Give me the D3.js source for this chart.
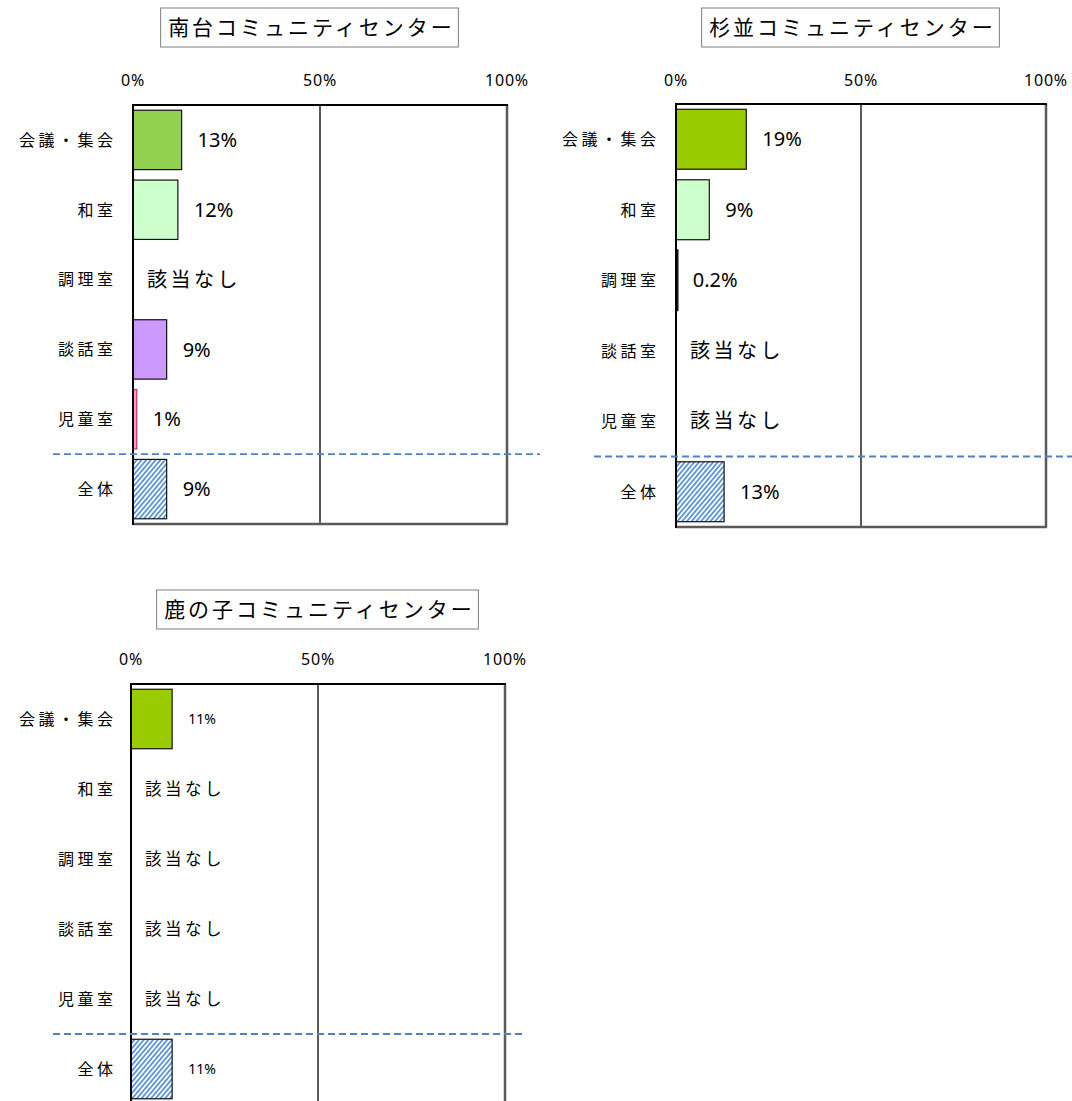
<!DOCTYPE html>
<html>
<head>
<meta charset="utf-8">
<script src="https://cdn.jsdelivr.net/npm/d3@7"></script>
<style>
  body { margin: 0; background: #fff; }
  svg { display: block; }
</style>
</head>
<body>
<div id="chart"></div>
<script>
/* 3 small horizontal bar panels: usage rate per room, per community center */

const categories = ["会議・集会", "和室", "調理室", "談話室", "児童室", "全体"];
const tickValues = [0, 50, 100];
const tickLabels = ["0%", "50%", "100%"];

const nandaiValues = [13, 12, null, 9, 1, 9];
const suginamiValues = [19, 9, 0.2, null, null, 13];
const shikanokoValues = [11, null, null, null, null, 11];

const nandaiColors = ["#92d050", "#ccffcc", null, "#cc99ff", "#ff99cc", "hatch"];
const suginamiColors = ["#99cc00", "#ccffcc", "#111111", null, null, "hatch"];
const shikanokoColors = ["#99cc00", null, null, null, null, "hatch"];

const panels = [
  { title: "南台コミュニティセンター", values: nandaiValues, colors: nandaiColors,
    x0: 133, x1: 507, top: 105, bottom: 524, titleX: 310, titleY: 8,
    dashFrom: 53, dashTo: 540, labelRight: 113, tickY: 86, valueSize: 20, naSize: 20, naSpacing: 3.5 },
  { title: "杉並コミュニティセンター", values: suginamiValues, colors: suginamiColors,
    x0: 676, x1: 1046, top: 104, bottom: 527, titleX: 851, titleY: 8,
    dashFrom: 594, dashTo: 1072, labelRight: 656, tickY: 86, valueSize: 20, naSize: 20, naSpacing: 3.5 },
  { title: "鹿の子コミュニティセンター", values: shikanokoValues, colors: shikanokoColors,
    x0: 131, x1: 505, top: 684, bottom: 1104, titleX: 318, titleY: 590,
    dashFrom: 53, dashTo: 525, labelRight: 113, tickY: 665, valueSize: 14, naSize: 16.5, naSpacing: 3.5 }
];

const width = 1072, height = 1101;
const jpFont = "'Noto Sans CJK JP', 'Noto Sans', sans-serif";
const numFont = "'Noto Sans', 'Open Sans', sans-serif";

const svg = d3.select("#chart").append("svg")
  .attr("width", width)
  .attr("height", height);

// hatch for "全体"
const pat = svg.append("defs").append("pattern")
  .attr("id", "hatch")
  .attr("patternUnits", "userSpaceOnUse")
  .attr("width", 3.6).attr("height", 3.6)
  .attr("patternTransform", "rotate(40)");
pat.append("rect").attr("width", 3.6).attr("height", 3.6).attr("fill", "#fff");
pat.append("line")
  .attr("x1", 0.9).attr("y1", 0).attr("x2", 0.9).attr("y2", 3.6)
  .attr("stroke", "#5b95dc").attr("stroke-width", 1.8);

panels.forEach(p => {
  const g = svg.append("g");

  const x = d3.scaleLinear().domain([0, 100]).range([p.x0, p.x1]);
  const y = d3.scaleBand().domain(categories).range([p.top, p.bottom])
    .paddingInner(0.15).paddingOuter(0.075);

  // title box
  const title = g.append("text")
    .attr("x", p.titleX + 1.5)
    .attr("y", p.titleY + 27)
    .attr("text-anchor", "middle")
    .attr("font-family", jpFont)
    .attr("font-size", 21)
    .attr("letter-spacing", 3)
    .attr("fill", "#000")
    .text(p.title);
  const tw = title.node().getComputedTextLength();
  g.insert("rect", "text")
    .attr("x", p.titleX - tw / 2 - 6)
    .attr("y", p.titleY)
    .attr("width", tw + 11)
    .attr("height", 39)
    .attr("fill", "#fff")
    .attr("stroke", "#7f7f7f")
    .attr("stroke-width", 1);

  // tick labels on top
  g.selectAll(".tick-label")
    .data(tickValues)
    .join("text")
    .attr("x", d => x(d))
    .attr("y", p.tickY)
    .attr("text-anchor", "middle")
    .attr("font-family", numFont)
    .attr("font-size", 16)
    .attr("letter-spacing", 0.8)
    .attr("fill", "#000")
    .text((d, i) => tickLabels[i]);

  // 50% gridline
  g.append("line")
    .attr("x1", x(50)).attr("x2", x(50))
    .attr("y1", p.top).attr("y2", p.bottom)
    .attr("stroke", "#222").attr("stroke-width", 1.5);

  // frame: right + bottom gray, top black
  g.append("line")
    .attr("x1", x(100)).attr("x2", x(100))
    .attr("y1", p.top).attr("y2", p.bottom)
    .attr("stroke", "#5a5a5a").attr("stroke-width", 2.5);
  g.append("line")
    .attr("x1", p.x0).attr("x2", x(100) + 1)
    .attr("y1", p.bottom).attr("y2", p.bottom)
    .attr("stroke", "#5a5a5a").attr("stroke-width", 2.5);
  g.append("line")
    .attr("x1", p.x0).attr("x2", x(100) + 1)
    .attr("y1", p.top).attr("y2", p.top)
    .attr("stroke", "#000").attr("stroke-width", 2);

  // bars
  const rows = categories.map((c, i) => ({ cat: c, v: p.values[i], color: p.colors[i] }));
  g.selectAll(".bar")
    .data(rows.filter(d => d.v !== null))
    .join("rect")
    .attr("x", x(0))
    .attr("y", d => y(d.cat))
    .attr("width", d => Math.max(x(d.v) - x(0), 1.5))
    .attr("height", y.bandwidth())
    .attr("fill", d => d.color === "hatch" ? "url(#hatch)" : d.color)
    .attr("stroke", d => d.cat === "児童室" ? "#c0306a" : "#111")
    .attr("stroke-width", d => d.v < 1 ? 2 : 1.2);

  // left axis
  g.append("line")
    .attr("x1", p.x0).attr("x2", p.x0)
    .attr("y1", p.top - 1).attr("y2", p.bottom + 1)
    .attr("stroke", "#000").attr("stroke-width", 2);

  // dashed separator above 全体
  const sepY = y("全体") - (y.step() - y.bandwidth()) / 2;
  g.append("line")
    .attr("x1", p.dashFrom).attr("x2", p.dashTo)
    .attr("y1", sepY).attr("y2", sepY)
    .attr("stroke", "#4f81c4").attr("stroke-width", 1.8)
    .attr("stroke-dasharray", "7,4");

  // category labels
  g.selectAll(".cat-label")
    .data(categories)
    .join("text")
    .attr("x", p.labelRight + 3.5)
    .attr("y", d => y(d) + y.bandwidth() / 2)
    .attr("dy", "0.36em")
    .attr("text-anchor", "end")
    .attr("font-family", jpFont)
    .attr("font-size", 16)
    .attr("letter-spacing", 3.5)
    .attr("fill", "#000")
    .text(d => d);

  // value labels
  g.selectAll(".val-label")
    .data(rows)
    .join("text")
    .attr("x", d => d.v === null ? x(0) + 14 : x(d.v) + 16)
    .attr("y", d => y(d.cat) + y.bandwidth() / 2)
    .attr("dy", "0.36em")
    .attr("font-family", d => d.v === null ? jpFont : numFont)
    .attr("font-size", d => d.v === null ? p.naSize : p.valueSize)
    .attr("letter-spacing", d => d.v === null ? p.naSpacing : 0)
    .attr("fill", "#000")
    .text(d => d.v === null ? "該当なし" : d.v + "%");
});
</script>
</body>
</html>
